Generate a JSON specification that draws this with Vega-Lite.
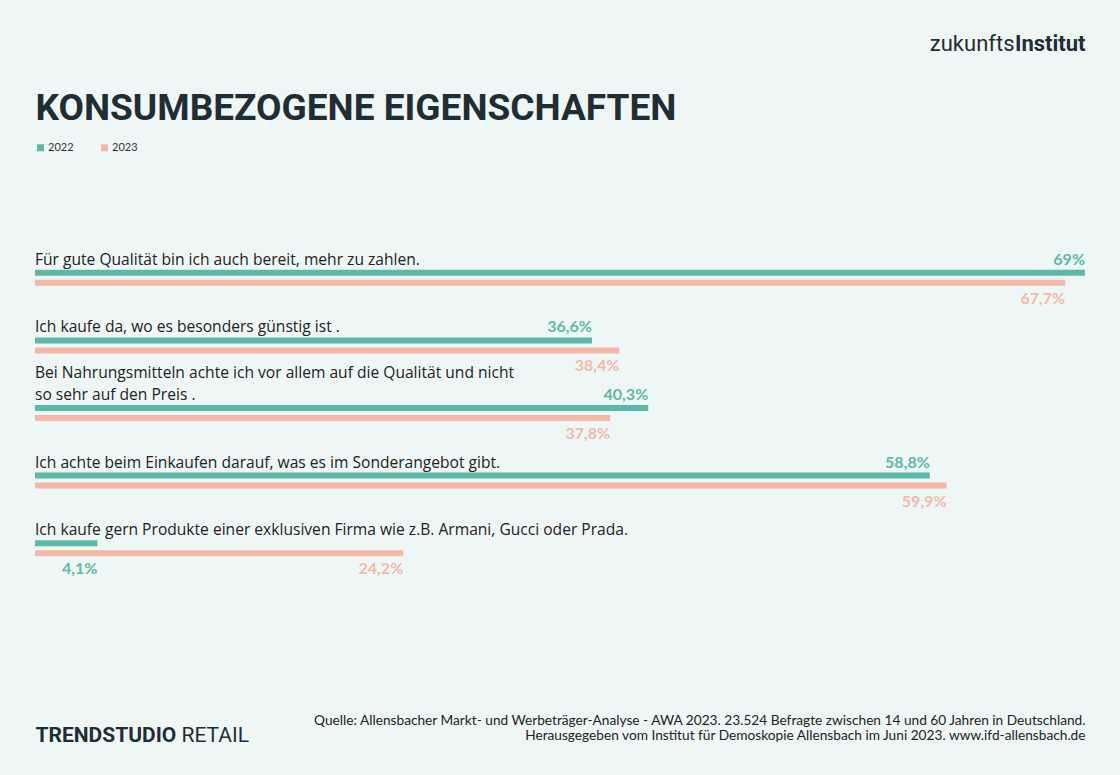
{
  "$schema": "https://vega.github.io/schema/vega-lite/v6.json",
  "width": 1050,
  "height": 338,
  "autosize": {"type": "none"},
  "padding": {"left": 35, "right": 35, "top": 239, "bottom": 198},
  "background": "#eff7f6",
  "config": {
    "view": {"stroke": null},
    "font": "Lato",
    "locale": {"number": {"decimal": ",", "thousands": ".", "grouping": [3], "currency": ["", " €"]}}
  },
  "data": {
    "values": [
      {"cat": "c1", "label": "Für gute Qualität bin ich auch bereit, mehr zu zahlen.", "year": "2022", "value": 0.69},
      {"cat": "c1", "label": "Für gute Qualität bin ich auch bereit, mehr zu zahlen.", "year": "2023", "value": 0.677},
      {"cat": "c2", "label": "Ich kaufe da, wo es besonders günstig ist .", "year": "2022", "value": 0.366},
      {"cat": "c2", "label": "Ich kaufe da, wo es besonders günstig ist .", "year": "2023", "value": 0.384},
      {"cat": "c3", "label": ["Bei Nahrungsmitteln achte ich vor allem auf die Qualität und nicht", "so sehr auf den Preis ."], "year": "2022", "value": 0.403},
      {"cat": "c3", "label": ["Bei Nahrungsmitteln achte ich vor allem auf die Qualität und nicht", "so sehr auf den Preis ."], "year": "2023", "value": 0.378},
      {"cat": "c4", "label": "Ich achte beim Einkaufen darauf, was es im Sonderangebot gibt.", "year": "2022", "value": 0.588},
      {"cat": "c4", "label": "Ich achte beim Einkaufen darauf, was es im Sonderangebot gibt.", "year": "2023", "value": 0.599},
      {"cat": "c5", "label": "Ich kaufe gern Produkte einer exklusiven Firma wie z.B. Armani, Gucci oder Prada.", "year": "2022", "value": 0.041},
      {"cat": "c5", "label": "Ich kaufe gern Produkte einer exklusiven Firma wie z.B. Armani, Gucci oder Prada.", "year": "2023", "value": 0.242}
    ]
  },
  "resolve": {"axis": {"x": "independent", "y": "independent"}},
  "layer": [
    {
      "transform": [{"filter": "datum.year == '2022'"}],
      "mark": {"type": "bar", "height": 6},
      "encoding": {
        "x": {
          "field": "value", "type": "quantitative",
          "scale": {"domain": [0, 0.69], "nice": false, "zero": true},
          "axis": {
            "orient": "top", "labels": false, "ticks": false, "domain": false, "grid": false,
            "title": "KONSUMBEZOGENE EIGENSCHAFTEN",
            "titleFont": "Roboto", "titleFontSize": 37, "titleFontWeight": "bold", "titleColor": "#1f2d35",
            "titleAlign": "left", "titleAnchor": "start", "titleBaseline": "alphabetic", "titleAngle": 0,
            "titleX": 0, "titleY": -120
          }
        },
        "y": {
          "field": "cat", "type": "nominal",
          "scale": {"domain": ["c1", "c2", "c3", "c4", "c5"], "paddingInner": 0, "paddingOuter": 0},
          "axis": {
            "orient": "left", "labels": false, "ticks": false, "domain": false, "grid": false,
            "title": "TRENDSTUDIO",
            "titleFont": "Roboto", "titleFontSize": 21, "titleFontWeight": "bold", "titleColor": "#1f2d35",
            "titleAlign": "left", "titleBaseline": "alphabetic", "titleAngle": 0,
            "titleX": 0, "titleY": 502
          }
        },
        "color": {
          "field": "year", "type": "nominal",
          "scale": {"domain": ["2022", "2023"], "range": ["#5cb9a8", "#f5b8a7"]},
          "legend": {
            "orient": "none", "legendX": 0, "legendY": -97, "direction": "horizontal",
            "title": null, "symbolType": "square", "symbolSize": 49, "symbolStrokeWidth": 0,
            "labelFont": "Lato", "labelFontSize": 11, "labelColor": "#333333", "labelOffset": 2,
            "columnPadding": 25, "padding": 0
          }
        }
      }
    },
    {
      "transform": [{"filter": "datum.year == '2023'"}],
      "mark": {"type": "bar", "height": 6, "yOffset": 10},
      "encoding": {
        "x": {
          "field": "value", "type": "quantitative",
          "axis": {
            "orient": "top", "labels": false, "ticks": false, "domain": false, "grid": false,
            "title": "zukunfts",
            "titleFont": "Roboto", "titleFontSize": 22, "titleFontWeight": "normal", "titleColor": "#1f2d35",
            "titleAlign": "right", "titleBaseline": "alphabetic", "titleAngle": 0,
            "titleX": 979, "titleY": -189
          }
        },
        "y": {
          "field": "cat", "type": "nominal",
          "axis": {
            "orient": "right", "labels": false, "ticks": false, "domain": false, "grid": false,
            "title": "RETAIL",
            "titleFont": "Roboto", "titleFontSize": 21, "titleFontWeight": "normal", "titleColor": "#1f2d35",
            "titleAlign": "left", "titleBaseline": "alphabetic", "titleAngle": 0,
            "titleX": -904, "titleY": 502
          }
        },
        "color": {"field": "year", "type": "nominal", "legend": null}
      }
    },
    {
      "transform": [{"filter": "datum.year == '2022' && !isArray(datum.label)"}],
      "mark": {"type": "text", "align": "left", "baseline": "alphabetic", "dy": -8, "fontSize": 15.6, "font": "Open Sans", "color": "#222222"},
      "encoding": {
        "x": {
          "datum": 0, "type": "quantitative",
          "axis": {
            "orient": "top", "labels": false, "ticks": false, "domain": false, "grid": false,
            "title": "Institut",
            "titleFont": "Roboto", "titleFontSize": 22, "titleFontWeight": "bold", "titleColor": "#1f2d35",
            "titleAlign": "right", "titleBaseline": "alphabetic", "titleAngle": 0,
            "titleX": 1050, "titleY": -189
          }
        },
        "y": {"field": "cat", "type": "nominal", "axis": null},
        "text": {"field": "label", "type": "nominal"}
      }
    },
    {
      "transform": [{"filter": "datum.year == '2022' && isArray(datum.label)"}],
      "mark": {"type": "text", "align": "left", "baseline": "alphabetic", "dy": -30, "lineHeight": 22, "fontSize": 15.6, "font": "Open Sans", "color": "#222222"},
      "encoding": {
        "x": {"datum": 0, "type": "quantitative", "axis": null},
        "y": {"field": "cat", "type": "nominal", "axis": null},
        "text": {"field": "label", "type": "nominal"}
      }
    },
    {
      "transform": [{"filter": "datum.year == '2022' && datum.cat != 'c5'"}],
      "mark": {"type": "text", "align": "right", "baseline": "alphabetic", "dy": -8, "fontSize": 16, "fontWeight": "bold", "font": "Lato", "color": "#5cb9a8"},
      "encoding": {
        "x": {
          "field": "value", "type": "quantitative",
          "axis": {
            "orient": "bottom", "labels": false, "ticks": false, "domain": false, "grid": false,
            "title": ["Quelle: Allensbacher Markt- und Werbeträger-Analyse - AWA 2023. 23.524 Befragte zwischen 14 und 60 Jahren in Deutschland.", "Herausgegeben vom Institut für Demoskopie Allensbach im Juni 2023. www.ifd-allensbach.de"],
            "titleFont": "Lato", "titleFontSize": 13.7, "titleFontWeight": "normal", "titleColor": "#222222",
            "titleAlign": "right", "titleBaseline": "alphabetic", "titleAngle": 0, "titleLineHeight": 15,
            "titleX": 1050, "titleY": 147
          }
        },
        "y": {"field": "cat", "type": "nominal", "axis": null},
        "text": {"field": "value", "type": "quantitative", "format": ".3~%"}
      }
    },
    {
      "transform": [{"filter": "datum.year == '2023' || datum.cat == 'c5'"}],
      "mark": {"type": "text", "align": "right", "baseline": "alphabetic", "dy": 31, "fontSize": 16, "fontWeight": "bold", "font": "Lato"},
      "encoding": {
        "x": {"field": "value", "type": "quantitative", "axis": null},
        "y": {"field": "cat", "type": "nominal", "axis": null},
        "color": {"field": "year", "type": "nominal", "legend": null},
        "text": {"field": "value", "type": "quantitative", "format": ".3~%"}
      }
    }
  ]
}
